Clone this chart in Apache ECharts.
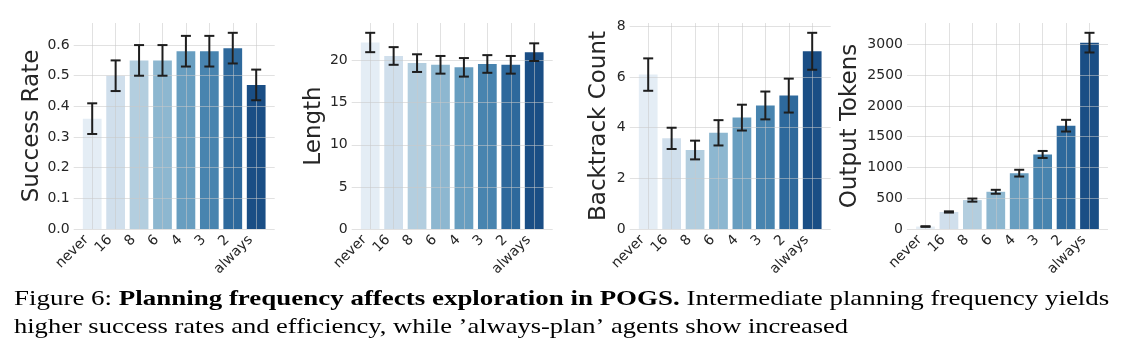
<!DOCTYPE html>
<html><head><meta charset="utf-8">
<script src="https://cdn.jsdelivr.net/npm/echarts@6/dist/echarts.min.js"></script>
<style>html,body{margin:0;padding:0;background:#fff}#c{width:1129px;height:362px}</style>
</head><body><div id="c"></div>
<script>
// ---- data ----
const categories = ['never', '16', '8', '6', '4', '3', '2', 'always'];
const barColors = ['#e4edf5', '#d0dfec', '#b3cedf', '#8db7d0', '#689ec0', '#4884af', '#2e699c', '#1a4e85'];

const successRate    = [0.36, 0.50, 0.55, 0.55, 0.58, 0.58, 0.59, 0.47];
const successRateErr = [0.05, 0.05, 0.05, 0.05, 0.05, 0.05, 0.05, 0.05];

const lengthVals = [22.15, 20.55, 19.7, 19.5, 19.2, 19.6, 19.5, 21.0];
const lengthErr  = [1.15, 1.05, 1.05, 1.05, 1.1, 1.05, 1.05, 1.05];

const backtrack    = [6.1, 3.58, 3.12, 3.8, 4.4, 4.88, 5.27, 7.02];
const backtrackErr = [0.64, 0.42, 0.37, 0.5, 0.51, 0.55, 0.67, 0.73];

const outputTokens    = [40, 277, 470, 605, 908, 1212, 1680, 3030];
const outputTokensErr = [5, 10, 25, 32, 55, 57, 95, 160];

const yTitles = ['Success Rate', 'Length', 'Backtrack Count', 'Output Tokens'];
const yIntervals = [0.1, 5, 2, 500];
const yDecimals = [1, 0, 0, 0];

const captionLine1 = ['Figure 6: ', 'Planning frequency affects exploration in POGS.', ' Intermediate planning frequency yields'];
const captionLine2 = 'higher success rates and efficiency, while \u2019always-plan\u2019 agents show increased';

// ---- layout ----
const FONT = 'DejaVu Sans';
const TXT = '#262626';
const GRIDC = 'rgba(200,200,200,0.55)';
const wideLefts = [73.7, 351.7, 629.7, 907];
const wideWidth = 201;
const plotTop = 23, plotH = 206;
const unit = wideWidth / 8.58;
const titleX = [32, 314, 599, 850];

const panels = [
  [successRate, successRateErr],
  [lengthVals, lengthErr],
  [backtrack, backtrackErr],
  [outputTokens, outputTokensErr]
];

const grid = [], xAxis = [], yAxis = [], series = [], graphic = [];
panels.forEach(function (p, k) {
  const vals = p[0], errs = p[1];
  let top = 0;
  vals.forEach(function (v, i) { top = Math.max(top, v + errs[i]); });
  const ymax = top * 1.05;
  const L = wideLefts[k];
  grid.push({left: L, top: plotTop, width: wideWidth, height: plotH, containLabel: false, outerBoundsMode: 'none'});
  grid.push({left: L + 0.29 * unit, top: plotTop, width: 8 * unit, height: plotH, containLabel: false, outerBoundsMode: 'none'});
  const gw = 2 * k, gn = 2 * k + 1;
  xAxis.push({gridIndex: gw, type: 'value', min: 0, max: 1, show: false});
  xAxis.push({
    gridIndex: gn, type: 'category', data: categories, z: 5,
    axisLine: {show: false}, axisTick: {show: false},
    axisLabel: {rotate: 45, margin: 3, padding: [0, 8, 0, 0], fontFamily: FONT, fontSize: 14, color: TXT, interval: 0},
    splitLine: {show: true, alignWithLabel: true, lineStyle: {color: GRIDC, width: 1}}
  });
  const dec = yDecimals[k];
  yAxis.push({
    gridIndex: gw, type: 'value', min: 0, max: ymax, interval: yIntervals[k], z: 5,
    axisLine: {show: false}, axisTick: {show: false},
    axisLabel: {margin: 4, fontFamily: FONT, fontSize: 14, color: TXT, showMaxLabel: false,
      formatter: function (v) { return v.toFixed(dec); }},
    splitLine: {show: true, showMaxLine: false, lineStyle: {color: GRIDC, width: 1}}
  });
  yAxis.push({gridIndex: gn, type: 'value', min: 0, max: ymax, show: false, splitLine: {show: false}});
  series.push({
    type: 'bar', xAxisIndex: gn, yAxisIndex: gn, barWidth: '80%', z: 2,
    data: vals.map(function (v, i) { return {value: v, itemStyle: {color: barColors[i]}}; })
  });
  series.push({
    type: 'custom', xAxisIndex: gn, yAxisIndex: gn, z: 10, silent: true,
    data: vals.map(function (v, i) { return [i, v - errs[i], v + errs[i]]; }),
    renderItem: function (params, api) {
      const lo = api.coord([api.value(0), api.value(1)]);
      const hi = api.coord([api.value(0), api.value(2)]);
      const hw = 5;
      const st = {stroke: '#1e1e1e', lineWidth: 2};
      return {type: 'group', children: [
        {type: 'line', shape: {x1: hi[0], y1: hi[1], x2: lo[0], y2: lo[1]}, style: st},
        {type: 'line', shape: {x1: hi[0] - hw, y1: hi[1], x2: hi[0] + hw, y2: hi[1]}, style: st},
        {type: 'line', shape: {x1: lo[0] - hw, y1: lo[1], x2: lo[0] + hw, y2: lo[1]}, style: st}
      ]};
    }
  });
  graphic.push({
    type: 'text', x: titleX[k], y: plotTop + plotH / 2, rotation: Math.PI / 2,
    style: {text: yTitles[k], font: '23px "DejaVu Sans"', fill: TXT, align: 'center', verticalAlign: 'middle'}
  });
});

graphic.push({
  type: 'text', x: 14, y: 299, scaleX: 1.225,
  style: {
    text: '{n|' + captionLine1[0] + '}{b|' + captionLine1[1] + '}{n|' + captionLine1[2] + '}',
    verticalAlign: 'middle', align: 'left',
    rich: {
      n: {font: '22px "Liberation Serif"', fill: '#000'},
      b: {font: 'bold 22px "Liberation Serif"', fill: '#000'}
    }
  }
});
graphic.push({
  type: 'text', x: 14, y: 327, scaleX: 1.205,
  style: {text: captionLine2, font: '22px "Liberation Serif"', fill: '#000', align: 'left', verticalAlign: 'middle'}
});

const chart = echarts.init(document.getElementById('c'), null, {renderer: 'canvas'});
chart.setOption({
  animation: false,
  backgroundColor: '#ffffff',
  grid: grid, xAxis: xAxis, yAxis: yAxis, series: series, graphic: graphic
});
</script></body></html>
